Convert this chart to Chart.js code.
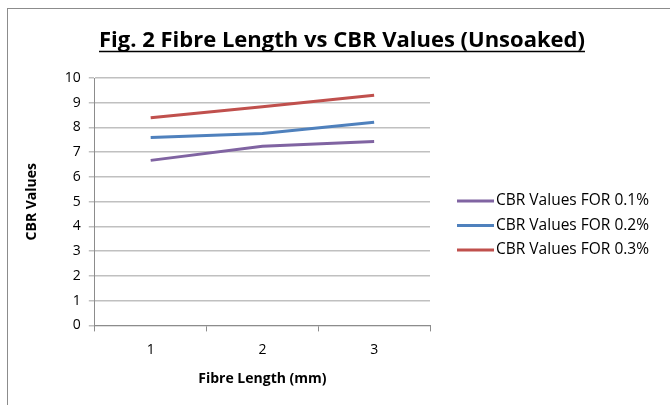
<!DOCTYPE html>
<html>
<head>
<meta charset="utf-8">
<script src="https://cdn.jsdelivr.net/npm/chart.js@4"></script>
<style>
  body { margin: 0; background: #fff; }
  #wrap { width: 670px; height: 405px; }
</style>
</head>
<body>
<div id="wrap"><canvas id="cbrChart" width="670" height="405"></canvas></div>
<script>
// fibre length categories (mm)
var fibreLength = ['1', '2', '3'];
var seriesNames = ['CBR Values FOR 0.1%', 'CBR Values FOR 0.2%', 'CBR Values FOR 0.3%'];
var cbr01 = [6.67, 7.24, 7.43];
var cbr02 = [7.59, 7.76, 8.21];
var cbr03 = [8.39, 8.84, 9.30];
var lineColors = ['#8064a2', '#4f81bd', '#c0504d'];
var chartTitle = 'Fig. 2 Fibre Length vs CBR Values (Unsoaked)';

var fontFam = "'Open Sans', 'DejaVu Sans', sans-serif";
var titleFont = 'bold 22px ' + fontFam;

// frame, underlined title and the legend on the right (excel style)
var extras = {
    id: 'extras',
    afterDraw: function(chart) {
        var c = chart.ctx;
        c.save();
        c.strokeStyle = '#8c8c8c';
        c.lineWidth = 1;
        c.strokeRect(7.5, 8.5, 700, 500);

        // title, centred on the whole picture, underlined
        c.font = titleFont;
        c.fillStyle = '#000';
        c.textAlign = 'center';
        c.textBaseline = 'alphabetic';
        c.fillText(chartTitle, 342, 47);
        var w = c.measureText(chartTitle).width;
        c.strokeStyle = '#000';
        c.lineWidth = 1.5;
        c.beginPath();
        c.moveTo(342 - w / 2, 51.5);
        c.lineTo(342 + w / 2, 51.5);
        c.stroke();

        // legend
        var ds = chart.data.datasets;
        c.font = '15.5px ' + fontFam;
        c.textBaseline = 'middle';
        c.textAlign = 'left';
        for (var i = 0; i < ds.length; i++) {
            var y = 201 + i * 24.5;
            c.strokeStyle = ds[i].borderColor;
            c.lineWidth = 3;
            c.beginPath();
            c.moveTo(457, y);
            c.lineTo(494, y);
            c.stroke();
            c.fillStyle = '#000';
            c.fillText(ds[i].label, 496, y);
        }
        c.restore();
    }
};

var ctx = document.getElementById('cbrChart').getContext('2d');
var chart1 = new Chart(ctx, {
    type: 'line',
    data: {
        labels: fibreLength,
        datasets: [
            { label: seriesNames[0], data: cbr01, borderColor: lineColors[0], backgroundColor: lineColors[0] },
            { label: seriesNames[1], data: cbr02, borderColor: lineColors[1], backgroundColor: lineColors[1] },
            { label: seriesNames[2], data: cbr03, borderColor: lineColors[2], backgroundColor: lineColors[2] }
        ]
    },
    options: {
        responsive: false,
        animation: false,
        devicePixelRatio: 1,
        elements: {
            line: { borderWidth: 3, tension: 0 },
            point: { radius: 0 }
        },
        layout: { padding: { left: 20, right: 240, top: 78, bottom: 14 } },
        plugins: {
            title: { display: false },
            legend: { display: false },
            tooltip: { enabled: false }
        },
        scales: {
            x: {
                offset: true,
                grid: { display: true, drawOnChartArea: false, offset: true, tickLength: 6, color: '#8c8c8c' },
                border: { color: '#8c8c8c' },
                ticks: { color: '#000', font: { family: fontFam, size: 14 }, padding: 10 },
                title: { display: true, text: 'Fibre Length (mm)', color: '#000', font: { family: fontFam, size: 14, weight: 'bold' }, padding: { top: 2 } }
            },
            y: {
                min: 0,
                max: 10,
                ticks: { stepSize: 1, color: '#000', font: { family: fontFam, size: 14 }, padding: 8 },
                grid: { color: '#c0c0c0', lineWidth: 1.5, tickLength: 6 },
                border: { color: '#8c8c8c' },
                title: { display: true, text: 'CBR Values', color: '#000', font: { family: fontFam, size: 14, weight: 'bold' }, padding: { bottom: 16 } }
            }
        }
    },
    plugins: [extras]
});
</script>
</body>
</html>
